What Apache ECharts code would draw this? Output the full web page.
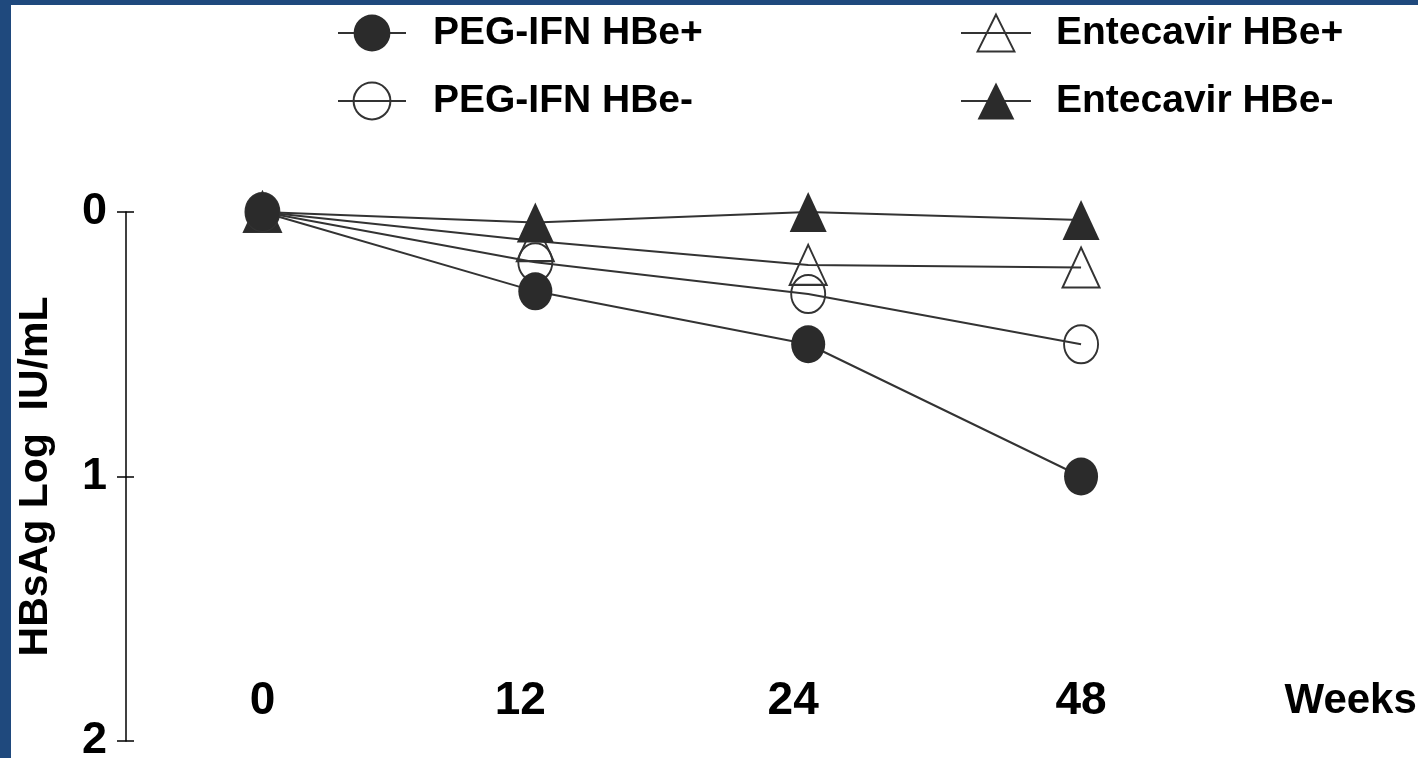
<!DOCTYPE html>
<html>
<head>
<meta charset="utf-8">
<script src="https://cdn.jsdelivr.net/npm/echarts@6/dist/echarts.min.js"></script>
<style>
html,body{margin:0;padding:0;background:#fff;}
#chart{width:1418px;height:758px;}
</style>
</head>
<body>
<div id="chart"></div>
<script>
// ---- data ----
const weeks = ['0', '12', '24', '48'];
const pegHBePos = [0, 0.30, 0.50, 1.00];
const pegHBeNeg = [0, 0.19, 0.31, 0.50];
const entHBePos = [0, 0.11, 0.20, 0.21];
const entHBeNeg = [0, 0.04, 0.00, 0.03];
const yTicks = [0, 1, 2];
const yName = 'HBsAg Log  IU/mL';
const xName = 'Weeks';
const seriesNames = ['PEG-IFN HBe+', 'PEG-IFN HBe-', 'Entecavir HBe+', 'Entecavir HBe-'];

const LINE = '#333333';
const FILL = '#2b2b2b';
const SANS = "'Liberation Sans', Arial, sans-serif";
const ELLIPSE = 'path://M0,50A50,50,0,1,1,100,50A50,50,0,1,1,0,50Z';

function lineSeries(name, data, symbol, size, filled) {
  return {
    name: name,
    type: 'line',
    data: data,
    xAxisIndex: 0,
    yAxisIndex: 0,
    symbol: symbol,
    symbolSize: size,
    showSymbol: true,
    lineStyle: { color: LINE, width: 2 },
    itemStyle: filled
      ? { color: FILL, borderColor: FILL, borderWidth: 0 }
      : { color: 'rgba(0,0,0,0)', borderColor: LINE, borderWidth: 2 },
    emphasis: { disabled: true },
    silent: true
  };
}

const chart = echarts.init(document.getElementById('chart'), null, { renderer: 'canvas' });

const legendCommon = {
  orient: 'vertical',
  top: 5,
  itemWidth: 68,
  itemHeight: 46,
  itemGap: 22,
  selectedMode: false,
  textStyle: {
    fontFamily: SANS,
    fontWeight: 'bold',
    fontSize: 39,
    color: '#000',
    lineHeight: 46,
    padding: [0, 0, 0, 22]
  }
};

chart.setOption({
  animation: false,
  backgroundColor: '#fff',
  graphic: [
    { type: 'rect', left: 0, top: 0, shape: { width: 11, height: 758 }, style: { fill: '#1f497d' }, silent: true },
    { type: 'rect', left: 0, top: 0, shape: { width: 1418, height: 5 }, style: { fill: '#1f497d' }, silent: true }
  ],
  legend: [
    Object.assign({}, legendCommon, { left: 332, data: [seriesNames[0], seriesNames[1]] }),
    Object.assign({}, legendCommon, { left: 955, itemWidth: 70, data: [seriesNames[2], seriesNames[3]],
      textStyle: Object.assign({}, legendCommon.textStyle, { padding: [0, 0, 0, 20] }) })
  ],
  grid: { left: 126, right: 200.5, top: 212, bottom: 17, containLabel: false, outerBoundsMode: 'none' },
  xAxis: {
    type: 'category',
    data: weeks,
    boundaryGap: true,
    position: 'bottom',
    offset: -40,
    axisLine: { show: false, onZero: false },
    axisTick: { show: false },
    splitLine: { show: false },
    axisLabel: {
      margin: 0,
      verticalAlign: 'middle',
      fontFamily: SANS,
      fontWeight: 'bold',
      fontSize: 46,
      color: '#000',
      formatter: function (v, i) {
        return (i === 1 || i === 2) ? '{s|' + v + '}' : '{n|' + v + '}';
      },
      rich: {
        n: { fontFamily: SANS, fontWeight: 'bold', fontSize: 46, color: '#000' },
        s: { fontFamily: SANS, fontWeight: 'bold', fontSize: 46, color: '#000', padding: [0, 30, 0, 0] }
      }
    },
    name: xName,
    nameLocation: 'end',
    nameGap: 67,
    nameTextStyle: { fontFamily: SANS, fontWeight: 'bold', fontSize: 42, color: '#000', verticalAlign: 'middle' }
  },
  yAxis: [
    {
      type: 'value',
      inverse: true,
      min: 0,
      max: 2,
      interval: 1,
      position: 'left',
      axisLine: { show: true, lineStyle: { color: '#000', width: 1.5 } },
      axisTick: { show: true, length: 9, lineStyle: { color: '#000', width: 1.5 } },
      splitLine: { show: false },
      axisLabel: {
        margin: 19,
        fontFamily: SANS,
        fontWeight: 'bold',
        fontSize: 45,
        color: '#000',
        formatter: function (v) { return yTicks.indexOf(v) >= 0 ? String(v) : ''; }
      },
      name: yName,
      nameLocation: 'middle',
      nameGap: 70,
      nameRotate: 90,
      nameTextStyle: { fontFamily: SANS, fontWeight: 'bold', fontSize: 41, color: '#000' }
    },
    {
      type: 'value',
      inverse: true,
      min: 0,
      max: 2,
      interval: 1,
      position: 'left',
      axisLine: { show: false },
      axisTick: { show: true, inside: true, length: 8, lineStyle: { color: '#000', width: 1.5 } },
      splitLine: { show: false },
      axisLabel: { show: false }
    }
  ],
  series: [
    lineSeries(seriesNames[2], entHBePos, 'triangle', [37, 40], false),
    lineSeries(seriesNames[3], entHBeNeg, 'triangle', [37, 40], true),
    lineSeries(seriesNames[1], pegHBeNeg, ELLIPSE, [34, 38], false),
    lineSeries(seriesNames[0], pegHBePos, ELLIPSE, [34, 38], true)
  ]
});
</script>
</body>
</html>
